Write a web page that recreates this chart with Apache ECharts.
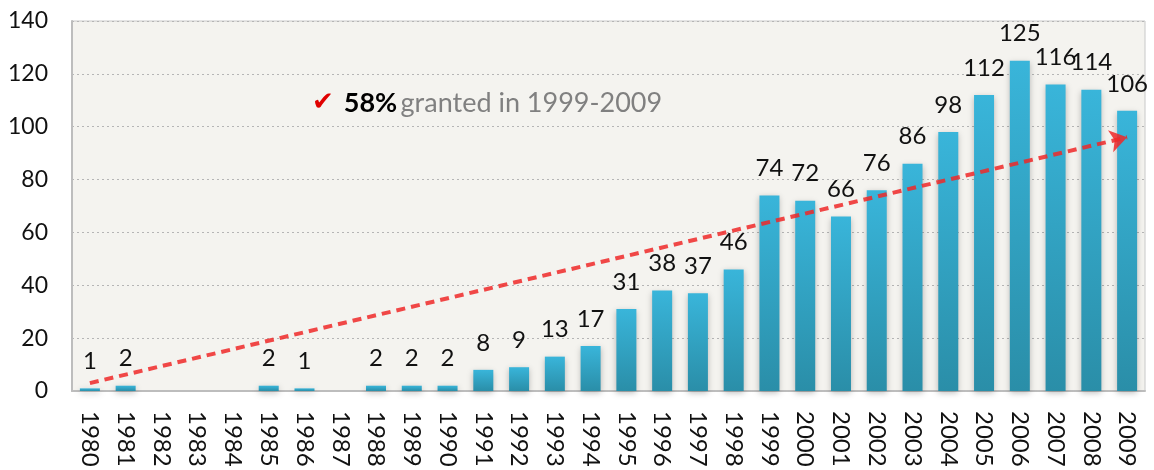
<!DOCTYPE html>
<html>
<head>
<meta charset="utf-8">
<script src="https://cdn.jsdelivr.net/npm/echarts@6/dist/echarts.min.js"></script>
<style>
  html, body { margin: 0; padding: 0; background: #fff; }
  #main { width: 1154px; height: 470px; }
</style>
</head>
<body>
<div id="main"></div>
<script>
var years = ['1980', '1981', '1982', '1983', '1984', '1985', '1986', '1987', '1988', '1989',
  '1990', '1991', '1992', '1993', '1994', '1995', '1996', '1997', '1998', '1999',
  '2000', '2001', '2002', '2003', '2004', '2005', '2006', '2007', '2008', '2009']
var granted = [1, 2, 0, 0, 0, 2, 1, 0, 2, 2,
  2, 8, 9, 13, 17, 31, 38, 37, 46, 74,
  72, 66, 76, 86, 98, 112, 125, 116, 114, 106]
// trend arrow ends (category index, value)
var trendFrom = [0, 3]
var trendTo = [29, 96]

var font = 'Lato, "Open Sans", sans-serif'
var chart = echarts.init(document.getElementById('main'))
window.addEventListener('resize', chart.resize)

var option = {
  animation: false,
  grid: {left: 72, right: 9, top: 21, bottom: 79, show: true, backgroundColor: '#f4f3ef', borderColor: '#c8c8c8', borderWidth: 1},
  xAxis: {
    type: 'category',
    data: years,
    axisLine: {lineStyle: {color: '#bdbdbd', width: 2}},
    axisTick: {show: false},
    axisLabel: {rotate: -90, margin: 20, color: '#111', fontSize: 24, fontFamily: font}
  },
  yAxis: {
    type: 'value',
    min: 0,
    max: 140,
    interval: 20,
    axisLine: {show: true, lineStyle: {color: '#bdbdbd', width: 2}},
    axisTick: {show: false},
    axisLabel: {margin: 24, color: '#111', fontSize: 23, fontFamily: font},
    splitLine: {lineStyle: {color: '#b5b5b5', type: [2, 3], width: 1}}
  },
  graphic: [{
    type: 'text',
    left: 312,
    top: 90,
    style: {
      text: '{c|✔}{b|58%} {g|granted in 1999-2009}',
      rich: {
        c: {fill: '#e00000', fontSize: 26, fontFamily: 'DejaVu Sans', padding: [0, 10, 0, 0]},
        b: {fill: '#000', fontSize: 27, fontWeight: 'bold', fontFamily: font},
        g: {fill: '#808080', fontSize: 27, fontFamily: font}
      }
    }
  }],
  series: [{
    name: 'granted',
    type: 'bar',
    barWidth: 20,
    data: granted,
    itemStyle: {
      color: new echarts.graphic.LinearGradient(0, 0, 0, 1, [
        {offset: 0, color: '#39b5da'},
        {offset: 1, color: '#2a8ea8'}
      ]),
      shadowBlur: 6,
      shadowColor: 'rgba(0,0,0,0.25)',
      shadowOffsetY: 2
    },
    label: {
      show: true,
      position: 'top',
      distance: 15,
      color: '#111',
      fontSize: 24,
      fontFamily: font,
      formatter: function (p) { return p.value ? p.value : '' }
    },
    markLine: {
      silent: true,
      symbol: ['none', 'arrow'],
      symbolSize: 17,
      label: {show: false},
      lineStyle: {color: 'rgba(238,40,40,0.85)', width: 4, type: [9, 6]},
      data: [[{coord: trendFrom}, {coord: trendTo}]]
    }
  }]
}
chart.setOption(option)
</script>
</body>
</html>
